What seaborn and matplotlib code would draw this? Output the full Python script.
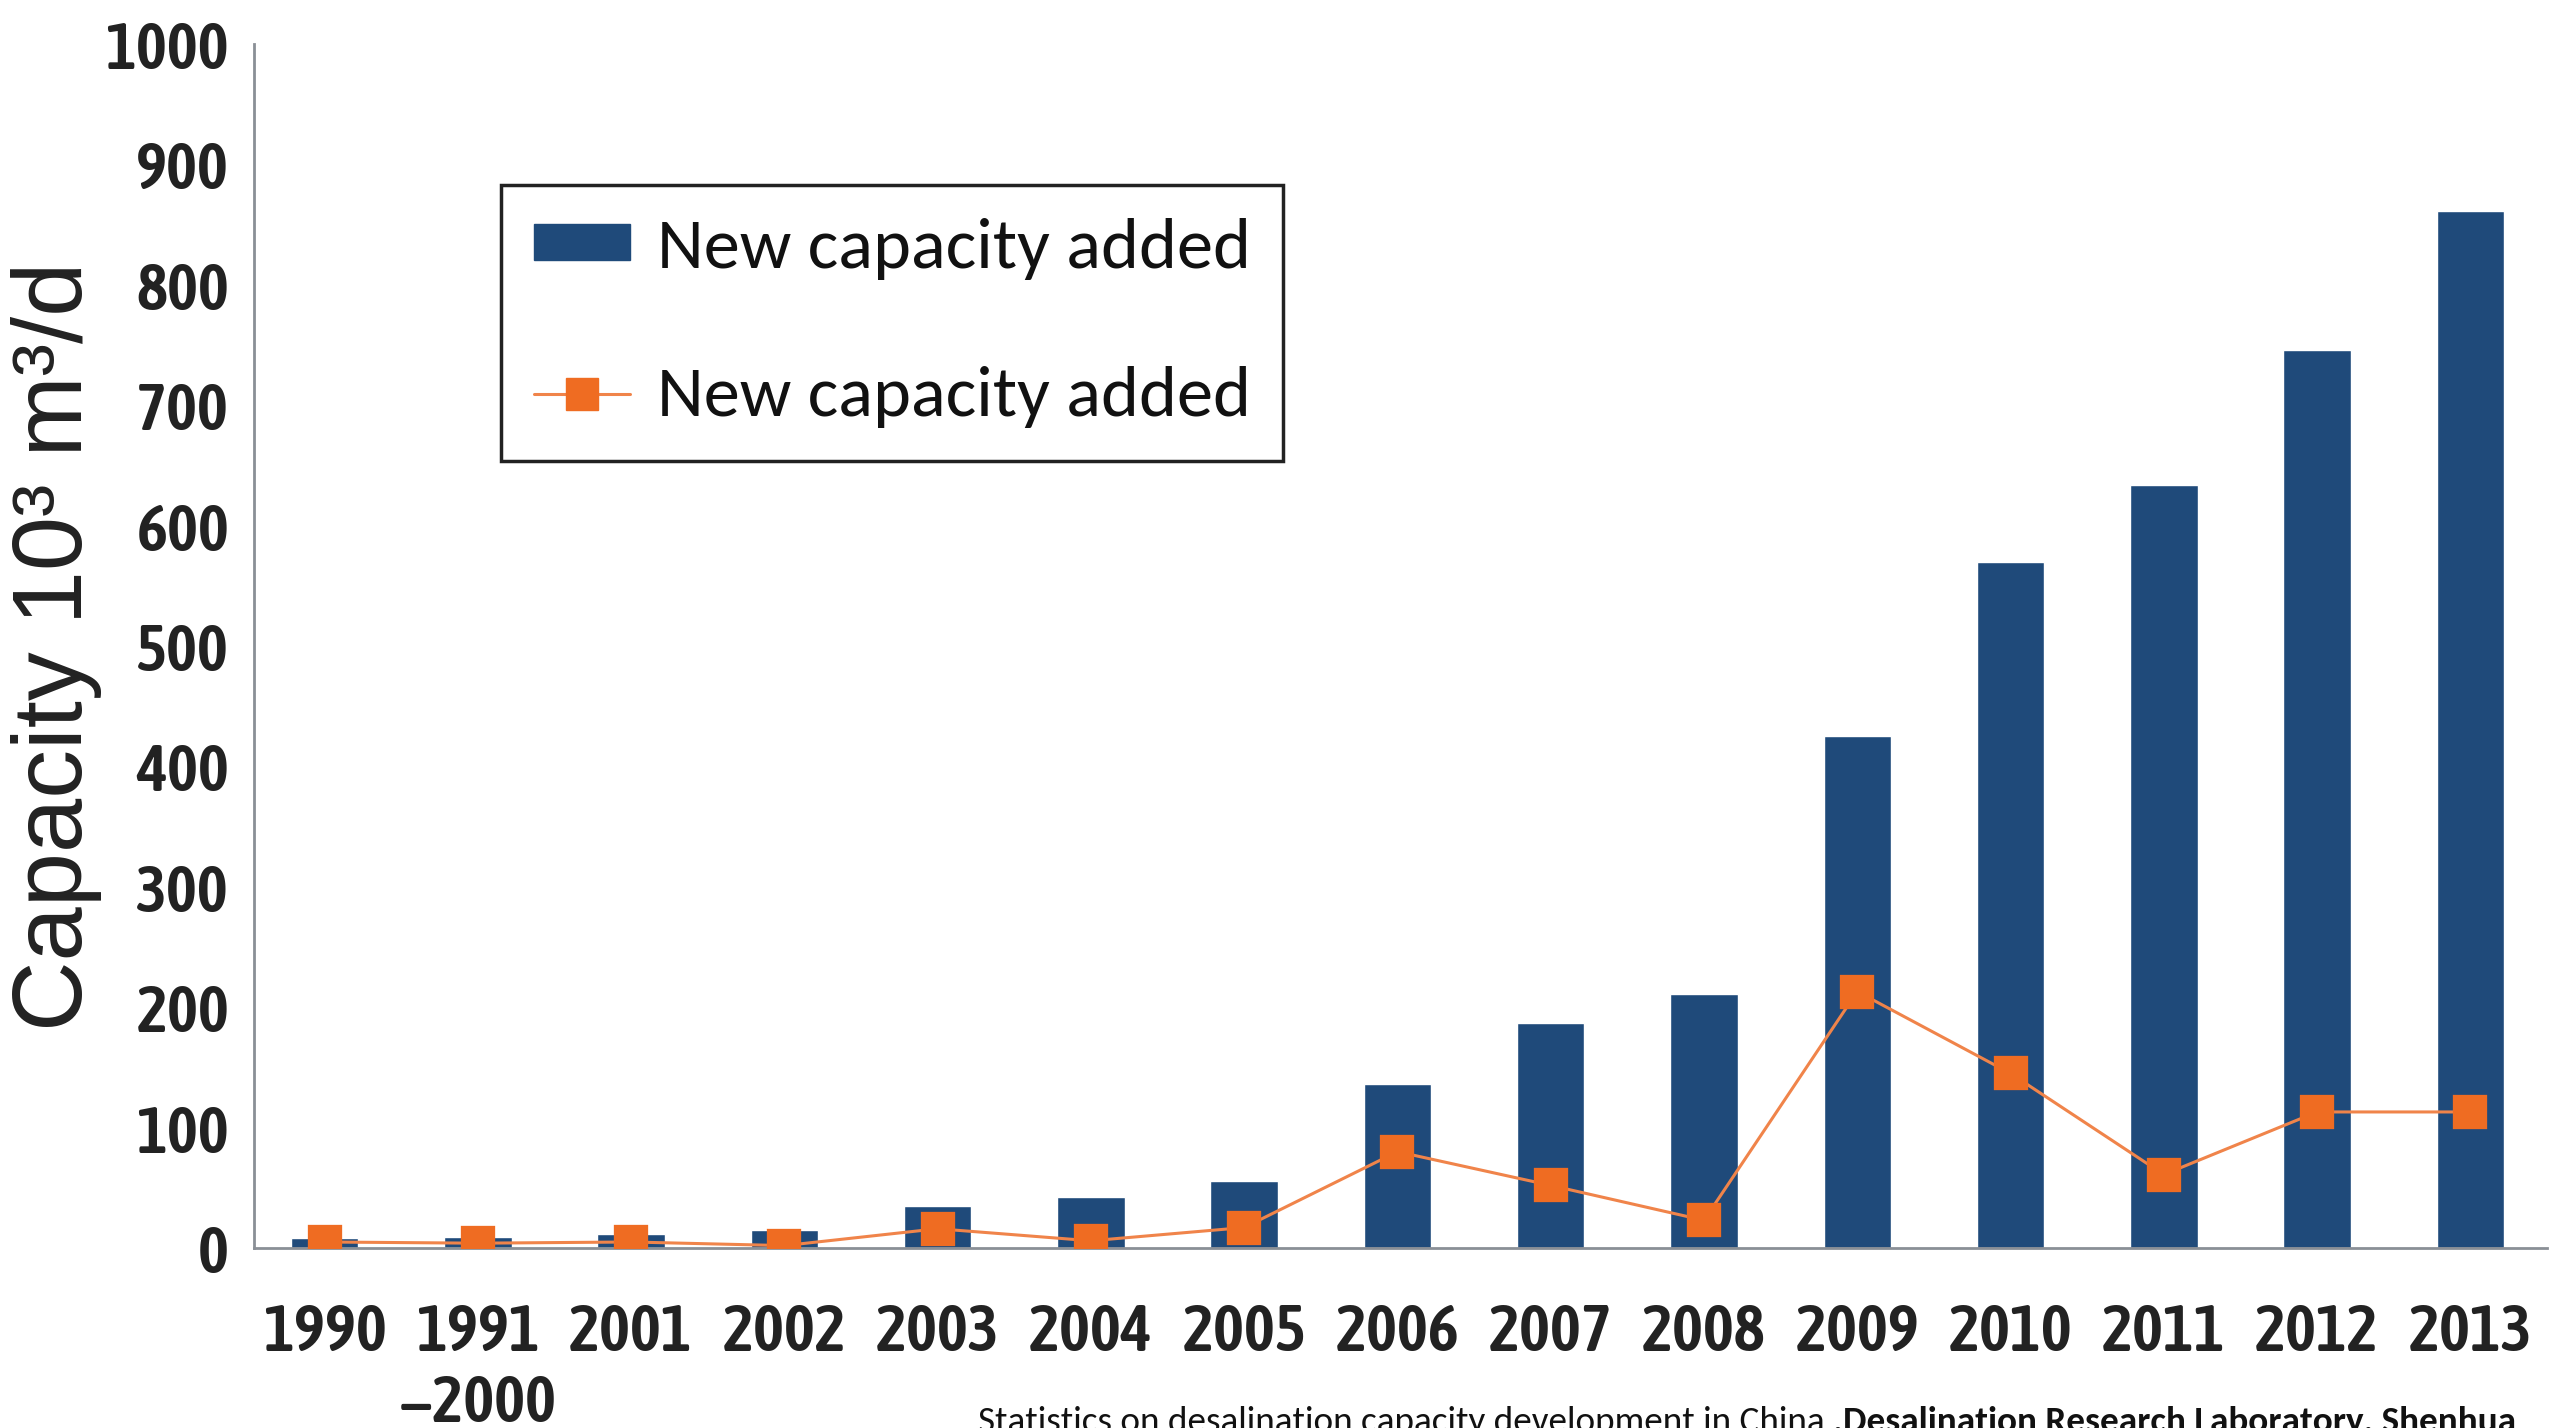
import matplotlib
matplotlib.use("Agg")
import matplotlib.pyplot as plt
from matplotlib.patches import Patch
from matplotlib.lines import Line2D
import seaborn as sns
import pandas as pd

# Desalination capacity in China (10^3 m^3/d)
years = ["1990", "1991\n\u22122000", "2001", "2002", "2003", "2004", "2005",
         "2006", "2007", "2008", "2009", "2010", "2011", "2012", "2013"]
cumulative_capacity = [8, 9, 12, 15, 35, 42, 56, 136, 187, 211, 425, 570, 634, 746, 861]
new_capacity = [5, 4, 5, 2, 16, 6, 17, 80, 52, 23, 213, 145, 61, 113, 113]
legend_labels = ["New capacity added", "New capacity added"]
y_ticks = [0, 100, 200, 300, 400, 500, 600, 700, 800, 900, 1000]
y_label = "Capacity 10\u00b3 m\u00b3/d"
caption_regular = "Statistics on desalination capacity development in China "
caption_bold = ".Desalination Research Laboratory, Shenhua"

NAVY = "#1f4a7a"
ORANGE = "#ef6c22"
LINE_ORANGE = "#f0844a"
TICK_FONT = ["Asap Condensed", "Liberation Sans"]
LABEL_FONT = ["Liberation Sans", "DejaVu Sans"]
TEXT_FONT = ["Carlito", "Asap Condensed", "Liberation Sans"]

sns.set_theme(style="white")
plt.rcParams["font.family"] = ["Liberation Sans", "DejaVu Sans"]

W, H = 2569, 1428
fig = plt.figure(figsize=(W / 100, H / 100), dpi=100)
fig.patch.set_facecolor("white")
renderer = fig.canvas.get_renderer()


def size_for_width(text, target_px, **kw):
    """Font size (pt) at which `text` spans target_px pixels."""
    t = fig.text(0, 0, text, fontsize=100, **kw)
    w = t.get_window_extent(renderer=renderer).width
    t.remove()
    return 100 * target_px / w


tick_size = size_for_width("1990", 124, family=TICK_FONT, fontweight=600)
ylabel_size = size_for_width(y_label, 770, family=LABEL_FONT)
legend_size = size_for_width(legend_labels[0], 593, family=TEXT_FONT)
cap_ref = size_for_width(caption_regular, 1000, family=TEXT_FONT)
cap_bold_ref = size_for_width(caption_bold, 1000, family=TEXT_FONT, fontweight="bold")
# combined width of both caption parts should be ~1536 px
caption_size = 1536 / (1000 / cap_ref + 1000 / cap_bold_ref)

df = pd.DataFrame({"year": years, "total": cumulative_capacity, "added": new_capacity})

ax = fig.add_axes([254 / W, 1 - 1248 / H, (2547 - 254) / W, (1248 - 44) / H])

sns.barplot(data=df, x="year", y="total", color=NAVY, saturation=1,
            width=0.44, ax=ax, zorder=2)
sns.pointplot(data=df, x="year", y="added", color=LINE_ORANGE, markers="s",
              markersize=23, linewidth=2.2, ax=ax, zorder=3)
# deeper orange for the square markers than for the connecting line
for ln in ax.lines:
    ln.set_markerfacecolor(ORANGE)
    ln.set_markeredgecolor(ORANGE)

ax.set_xlim(-0.46, 14.5)
ax.set_ylim(0, 1000)
ax.set_yticks(y_ticks)
ax.set_yticklabels([str(v) for v in y_ticks])
ax.set_xlabel("")
ax.set_ylabel(y_label, fontsize=ylabel_size, color="#222222", family=LABEL_FONT)
ax.yaxis.set_label_coords(-0.0663, 0.5)

for s in ["top", "right"]:
    ax.spines[s].set_visible(False)
for s in ["left", "bottom"]:
    ax.spines[s].set_color("#8a8f96")
    ax.spines[s].set_linewidth(2)

ax.tick_params(axis="y", direction="in", length=8, width=1.5, color="#8a8f96",
               labelsize=tick_size, pad=18, labelcolor="#222222")
ax.tick_params(axis="x", which="major", length=0, labelsize=tick_size, pad=38,
               labelcolor="#222222")
ax.set_xticks([i + 0.5 for i in range(len(years) - 1)], minor=True)
ax.tick_params(axis="x", which="minor", direction="in", length=9, width=1.5,
               color="#8a8f96")
for lab in ax.get_xticklabels() + ax.get_yticklabels():
    lab.set_fontweight(600)
    lab.set_family(TICK_FONT)
for lab in ax.get_xticklabels():
    lab.set_linespacing(1.15)
    lab.set_verticalalignment("top")

S = legend_size / 0.72  # legend font size in pixels
handles = [
    Patch(facecolor=NAVY, edgecolor=NAVY),
    Line2D([], [], color=LINE_ORANGE, lw=2.2, marker="s", markersize=23,
           markerfacecolor=ORANGE, markeredgecolor=ORANGE),
]
leg = ax.legend(handles, legend_labels, loc="upper left",
                bbox_to_anchor=((501 - 254) / (2547 - 254), (1248 - 185) / (1248 - 44)),
                borderaxespad=0, prop={"family": TEXT_FONT, "size": legend_size},
                handlelength=96 / S, handleheight=28 / S, handletextpad=27 / S,
                labelspacing=1.2, borderpad=0.45, fancybox=False,
                frameon=True, framealpha=1)
leg.get_frame().set_edgecolor("#222222")
leg.get_frame().set_linewidth(2.5)
for t in leg.get_texts():
    t.set_color("#111111")

# two-part caption along the bottom edge
x0 = 978 / W
y0 = -4 / H
t1 = fig.text(x0, y0, caption_regular, fontsize=caption_size, family=TEXT_FONT,
              color="#111111", va="baseline", ha="left")
bb = t1.get_window_extent(renderer=renderer)
fig.text(bb.x1 / fig.bbox.width, y0, caption_bold, fontsize=caption_size,
         family=TEXT_FONT, fontweight="bold", color="#111111",
         va="baseline", ha="left")

fig.savefig("out.png", dpi=100, facecolor="white")
